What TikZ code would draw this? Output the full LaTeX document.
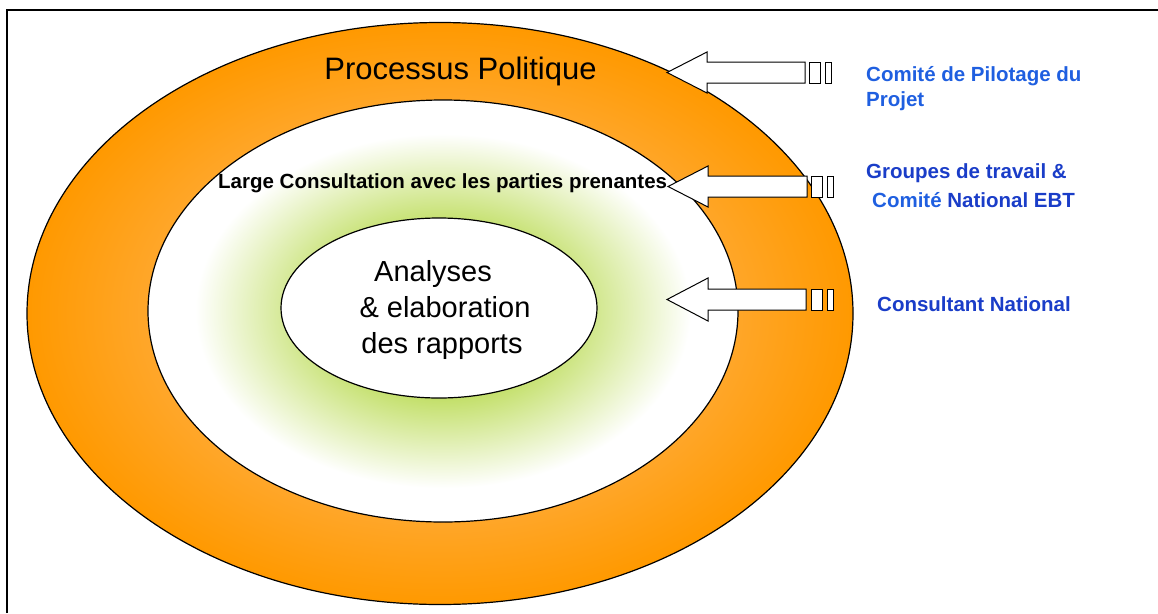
\documentclass[tikz,border=0pt]{standalone}
\usepackage{fontspec}
\setmainfont{Liberation Sans}
\definecolor{orD}{HTML}{FF9900}
\definecolor{orL}{HTML}{FFA82E}
\definecolor{grC}{HTML}{C4E06C}
\definecolor{blL}{HTML}{1F5FE0}
\definecolor{blD}{HTML}{1A3DC8}
\pgfdeclareradialshading{orangering}{\pgfpoint{0bp}{0bp}}{color(0bp)=(orL); color(17bp)=(orL); color(25bp)=(orD); color(50bp)=(orD)}
\pgfdeclareradialshading{greenglow}{\pgfpoint{0bp}{0bp}}{color(0bp)=(grC); color(10.5bp)=(grC); color(21bp)=(white); color(50bp)=(white)}
\tikzset{
  ring/.style={draw=black, line width=1.2pt},
  blockarrow/.style={draw=black, fill=white, line width=1pt, line join=miter},
  tailbox/.style={draw=black, fill=white, line width=1pt},
  lbl/.style={anchor=base west, inner sep=0pt, font=\fontsize{20.5}{24}\selectfont\bfseries},
  bigtxt/.style={anchor=base, inner sep=0pt, font=\fontsize{29}{35}\selectfont}
}
\begin{document}
\begin{tikzpicture}[x=1pt,y=-1pt]
\useasboundingbox (0,0) rectangle (1158,613);
% frame
\draw[line width=2pt] (7,613) -- (7,10) -- (1158,10);
% ellipses
\shade[shading=orangering, ring] (440,313.5) ellipse [x radius=413, y radius=291];
\shade[shading=greenglow, ring] (443,311) ellipse [x radius=295, y radius=211];
\draw[ring, fill=white] (439,308) ellipse [x radius=158, y radius=90];
% arrows
\coordinate (t1) at (667,72.5);
\draw[blockarrow] (t1) -- (707,52) -- (707,62) -- (805,62) -- (805,83) -- (707,83) -- (707,93) -- cycle;
\draw[tailbox] (809,62) rectangle (820,83);
\draw[tailbox] (825,62) rectangle (831,83);
\coordinate (t2) at (668,186.5);
\draw[blockarrow] (t2) -- (708,166) -- (708,176) -- (807,176) -- (807,197) -- (708,197) -- (708,207) -- cycle;
\draw[tailbox] (811,176) rectangle (822,197);
\draw[tailbox] (827,176) rectangle (833,197);
\coordinate (t3) at (667,299.5);
\draw[blockarrow] (t3) -- (708,278) -- (708,289) -- (806,289) -- (806,310) -- (708,310) -- (708,321) -- cycle;
\draw[tailbox] (811,289) rectangle (822,310);
\draw[tailbox] (827,289) rectangle (833,310);
% texts
\node[anchor=base, inner sep=0pt, font=\fontsize{31}{37}\selectfont] (pp) at (460.5,79) {Processus Politique};
\node[anchor=base west, inner sep=0pt, font=\fontsize{20.5}{24}\selectfont\bfseries] (lc) at (218,188) {Large Consultation avec les parties prenantes};
\node[bigtxt] (a1) at (433,281) {Analyses};
\node[bigtxt] (a2) at (445,317) {\& elaboration};
\node[bigtxt] (a3) at (442,353) {des rapports};
% labels
\node[lbl, text=blL] (l1) at (866,81) {Comité de Pilotage du};
\node[lbl, text=blL] (l2) at (866,106) {Projet};
\node[lbl, text=blD] (l3) at (866,178) {Groupes de travail \&};
\node[lbl] (l4) at (872,207) {\textcolor{blL}{Comité} \textcolor{blD}{National EBT}};
\node[lbl, text=blD] (l5) at (877,311) {Consultant National};
\end{tikzpicture}
\end{document}
